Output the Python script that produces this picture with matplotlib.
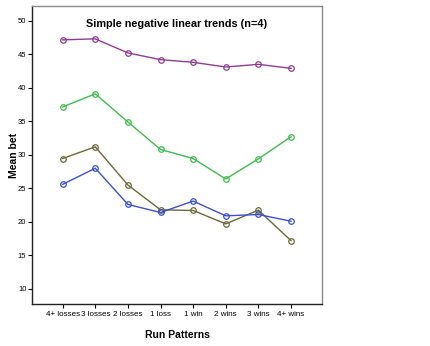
import matplotlib.pyplot as plt

plt.rcParams["font.family"] = ["Liberation Sans", "DejaVu Sans"]

# ---- data ----
patterns = ["4+ losses", "3 losses", "2 losses", "1 loss", "1 win", "2 wins", "3 wins", "4+ wins"]

purple = [47.15, 47.3, 45.2, 44.2, 43.8, 43.1, 43.5, 42.9]
green = [37.15, 39.1, 34.9, 30.8, 29.45, 26.4, 29.4, 32.7]
olive = [29.45, 31.2, 25.5, 21.8, 21.7, 19.7, 21.75, 17.2]
blue = [25.6, 28.0, 22.6, 21.4, 23.1, 20.9, 21.1, 20.1]

series = [
    (purple, "#8e3d92"),
    (green, "#3dbd4c"),
    (olive, "#6b6a36"),
    (blue, "#3a50cf"),
]

fig = plt.figure(figsize=(4.31, 3.46), dpi=100)
ax = fig.add_axes([32 / 431, 42 / 346, 290 / 431, 298 / 346])

x = list(range(len(patterns)))
for vals, col in series:
    ax.plot(x, vals, color=col, lw=1.0, marker="o", ms=4,
            mfc="none", mec=col, mew=0.9)

ax.set_xlim(-0.94, 7.95)
ax.set_ylim(7.75, 52.2)
ax.set_xticks(x)
ax.set_xticklabels(patterns, fontsize=5.8)
ax.set_yticks([10, 15, 20, 25, 30, 35, 40, 45, 50])
ax.tick_params(axis="y", labelsize=5.5, length=3, width=0.8, pad=1)
ax.tick_params(axis="x", length=3, width=0.8, pad=2)

for side in ["top", "right"]:
    ax.spines[side].set_color("#8a8a8a")
    ax.spines[side].set_linewidth(1.0)
for side in ["left", "bottom"]:
    ax.spines[side].set_color("#222222")
    ax.spines[side].set_linewidth(1.0)

ax.set_xlabel("Run Patterns", fontsize=7.5, fontweight="bold", labelpad=9)
ax.set_ylabel("Mean bet", fontsize=7.5, fontweight="bold")
ax.yaxis.set_label_coords(-0.046, 0.5)
ax.text(0.5, 0.94, "Simple negative linear trends (n=4)", transform=ax.transAxes,
        ha="center", va="center", fontsize=7.8, fontweight="bold")

fig.savefig("out.png", dpi=100)
